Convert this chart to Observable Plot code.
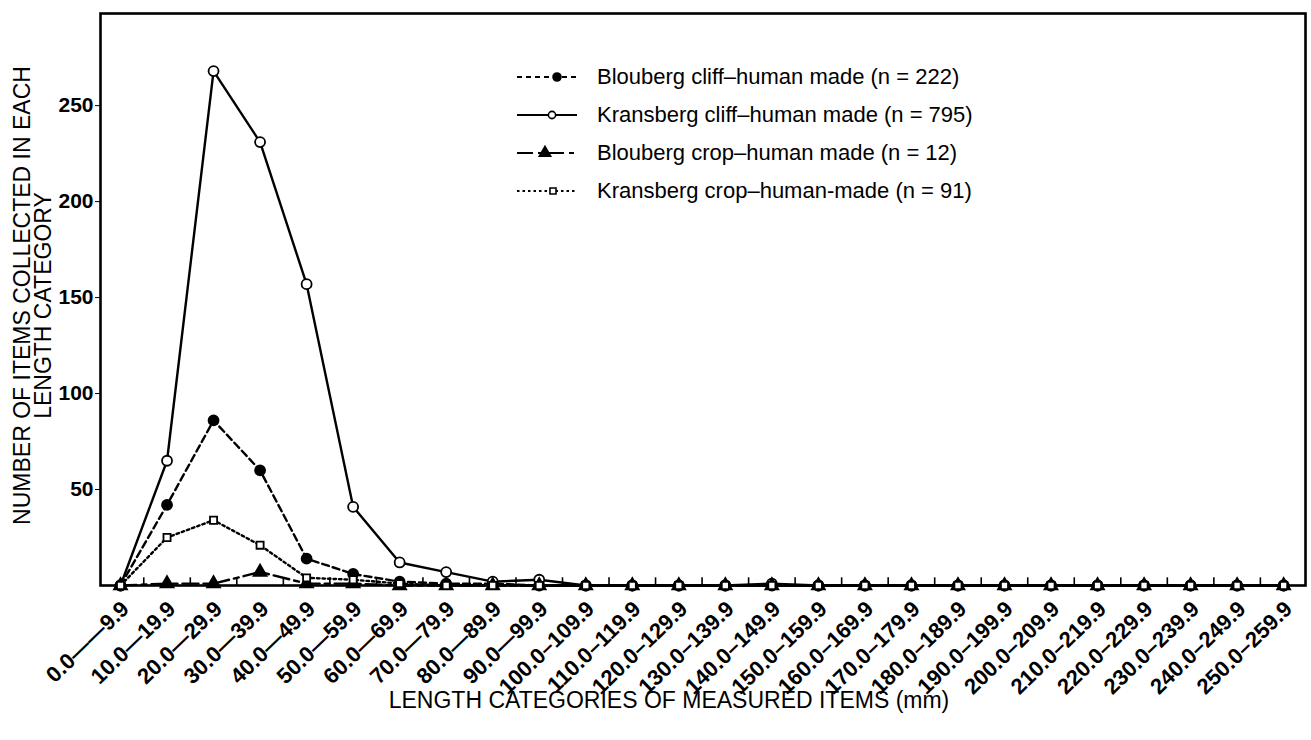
<!DOCTYPE html>
<html>
<head>
<meta charset="utf-8">
<script src="https://cdn.jsdelivr.net/npm/d3@7"></script>
<script src="https://cdn.jsdelivr.net/npm/@observablehq/plot@0.6"></script>
<style>
  html, body { margin: 0; padding: 0; background: #fff; }
  #wrap { position: relative; width: 1311px; height: 740px; }
  #legend { position: absolute; left: 510px; top: 58px; font-family: "Liberation Sans", Arial, sans-serif; font-size: 22px; color: #000; }
  .row { display: flex; align-items: center; height: 38px; }
  .row span { margin-left: 7px; white-space: nowrap; }
</style>
</head>
<body>
<div id="wrap">
  <div id="chart"></div>
  <div id="legend"></div>
</div>
<script>
const labels = [
  "0.0——9.9", "10.0—19.9", "20.0—29.9", "30.0—39.9", "40.0—49.9",
  "50.0—59.9", "60.0—69.9", "70.0—79.9", "80.0—89.9", "90.0—99.9",
  "100.0–109.9", "110.0–119.9", "120.0–129.9", "130.0–139.9", "140.0–149.9",
  "150.0–159.9", "160.0–169.9", "170.0–179.9", "180.0–189.9", "190.0–199.9",
  "200.0–209.9", "210.0–219.9", "220.0–229.9", "230.0–239.9", "240.0–249.9",
  "250.0–259.9"
];
const blouCliff  = [0, 42, 86, 60, 14, 6, 2, 1, 1, 0, 0, 0, 0, 0, 0, 0, 0, 0, 0, 0, 0, 0, 0, 0, 0, 0];
const kransCliff = [0, 65, 268, 231, 157, 41, 12, 7, 2, 3, 0, 0, 0, 0, 1, 0, 0, 0, 0, 0, 0, 0, 0, 0, 0, 0];
const blouCrop   = [0, 1, 1, 7, 1, 1, 0, 0, 0, 0, 0, 0, 0, 0, 0, 0, 0, 0, 0, 0, 0, 0, 0, 0, 0, 0];
const kransCrop  = [0, 25, 34, 21, 4, 3, 1, 0, 0, 0, 0, 0, 0, 0, 0, 0, 0, 0, 0, 0, 0, 0, 0, 0, 0, 0];
const yTicks = [50, 100, 150, 200, 250];
const seriesNames = [
  "Blouberg cliff–human made (n = 222)",
  "Kransberg cliff–human made (n = 795)",
  "Blouberg crop–human made (n = 12)",
  "Kransberg crop–human-made (n = 91)"
];
const xTitle = "LENGTH CATEGORIES OF MEASURED ITEMS (mm)";
const yTitle1 = "NUMBER OF ITEMS COLLECTED IN EACH";
const yTitle2 = "LENGTH CATEGORY";

const styles = [
  {values: blouCliff,  dash: "7,4",      ldash: "5,4",      symbol: "circle",   fill: "black", r: 5,   lr: 4,   lx: 47},
  {values: kransCliff, dash: null,       ldash: null,       symbol: "circle",   fill: "white", r: 5,   lr: 3.6, lx: 42},
  {values: blouCrop,   dash: "16,5,5,5", ldash: "16,5,5,5", symbol: "triangle", fill: "black", r: 4.8, lr: 4.2, lx: 35},
  {values: kransCrop,  dash: "2.5,3",    ldash: "2.5,3",    symbol: "square",   fill: "white", r: 4,   lr: 3.4, lx: 43}
];

const idx = d3.range(labels.length);
const mids = d3.range(labels.length - 1).map(i => i + 0.5);

const marks = [Plot.frame({stroke: "black", strokeWidth: 2.6})];
marks.push(Plot.ruleX(mids, {x: d => d, y1: 0, y2: 4, stroke: "black", strokeWidth: 1.6}));
styles.forEach(s => {
  const rows = idx.map(i => ({i, v: s.values[i]}));
  marks.push(Plot.line(rows, {x: "i", y: "v", stroke: "black", strokeWidth: 2.4, strokeDasharray: s.dash}));
});
styles.forEach(s => {
  const rows = idx.map(i => ({i, v: s.values[i]}));
  marks.push(Plot.dot(rows, {x: "i", y: "v", symbol: s.symbol, r: s.r, fill: s.fill, stroke: "black", strokeWidth: 1.8}));
});
marks.push(Plot.axisY({ticks: yTicks, tickSize: 5, tickPadding: 2}));
marks.push(Plot.axisX({ticks: idx, tickFormat: i => labels[i], tickRotate: -44, tickSize: 0, tickPadding: 20, dx: 5}));
marks.push(Plot.text([xTitle], {frameAnchor: "bottom", dy: 122, dx: -34, fontSize: 23, fontWeight: "normal"}));
marks.push(Plot.text([yTitle1], {frameAnchor: "left", textAnchor: "middle", rotate: -90, dx: -78, dy: -4, fontSize: 23, fontWeight: "normal"}));
marks.push(Plot.text([yTitle2], {frameAnchor: "left", textAnchor: "middle", rotate: -90, dx: -57, dy: 6, fontSize: 23, fontWeight: "normal"}));

const chart = Plot.plot({
  width: 1311,
  height: 740,
  marginLeft: 100,
  marginRight: 6,
  marginTop: 13,
  marginBottom: 155,
  style: {fontFamily: "'Liberation Sans', Arial, sans-serif", fontWeight: "bold", fontSize: "21px", color: "black", background: "white"},
  x: {type: "linear", domain: [-0.43, 25.47], label: null},
  y: {domain: [0, 298], label: null},
  marks
});
d3.select(chart).selectAll('g[aria-label="x-axis tick label"]').attr("font-size", 22).style("font-size", "22px");
document.getElementById("chart").appendChild(chart);

// legend
const legend = d3.select("#legend");
styles.forEach((s, k) => {
  const row = legend.append("div").attr("class", "row");
  const svg = row.append("svg").attr("width", 80).attr("height", 20);
  svg.append("line").attr("x1", 7).attr("x2", 67).attr("y1", 10).attr("y2", 10)
    .attr("stroke", "black").attr("stroke-width", 2.2)
    .attr("stroke-dasharray", s.ldash);
  const sym = s.symbol === "circle" ? d3.symbolCircle : s.symbol === "square" ? d3.symbolSquare : d3.symbolTriangle;
  svg.append("path").attr("d", d3.symbol(sym, Math.PI * s.lr * s.lr)())
    .attr("transform", `translate(${s.lx},10)`)
    .attr("fill", s.fill).attr("stroke", "black").attr("stroke-width", 1.6);
  row.append("span").text(seriesNames[k]);
});
</script>
</body>
</html>
